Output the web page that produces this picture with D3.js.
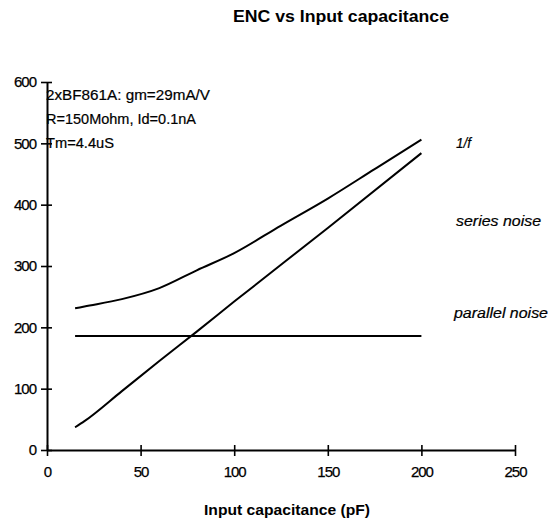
<!DOCTYPE html>
<html>
<head>
<meta charset="utf-8">
<script src="https://cdn.jsdelivr.net/npm/d3@7"></script>
<style>
  html, body { margin: 0; padding: 0; background: #fff; }
  svg { display: block; font-family: "Liberation Sans", Arial, sans-serif; }
</style>
</head>
<body>
<svg id="chart" width="552" height="519"></svg>
<script>
// ---- data ----
const title = "ENC vs Input capacitance";
const xAxisTitle = "Input capacitance (pF)";
const xTicks = [0, 50, 100, 150, 200, 250];
const yTicks = [0, 100, 200, 300, 400, 500, 600];
const annotation = ["2xBF861A: gm=29mA/V", "R=150Mohm, Id=0.1nA", "Tm=4.4uS"];
const seriesNames = ["1/f", "series noise", "parallel noise"];

const totalCap   = [15, 20, 40, 60, 80, 100, 125, 150, 175, 200];
const totalENC   = [231, 234, 246, 264, 293, 321, 366, 410, 458, 506];
const seriesCap  = [15, 20, 40, 60, 80, 100, 150, 200];
const seriesENC  = [37, 47, 96, 145, 193, 242, 362, 484];
const parallelCap = [15, 200];
const parallelENC = [186, 186];

// ---- layout ----
const svg = d3.select("#chart");
const x = d3.scaleLinear().domain([0, 250]).range([47, 515]);
const y = d3.scaleLinear().domain([0, 600]).range([450, 82]);

// title
svg.append("text")
  .attr("x", 341).attr("y", 22)
  .attr("text-anchor", "middle")
  .attr("font-size", 16).attr("font-weight", "bold")
  .attr("textLength", 216).attr("lengthAdjust", "spacingAndGlyphs")
  .text(title);

// axes
const yAxis = svg.append("g")
  .attr("transform", `translate(${x(0)},0)`)
  .call(d3.axisLeft(y).tickValues(yTicks).tickSize(6).tickPadding(5).tickSizeOuter(0));
const xAxis = svg.append("g")
  .attr("transform", `translate(0,${y(0)})`)
  .call(d3.axisBottom(x).tickValues(xTicks).tickSize(6).tickPadding(10).tickSizeOuter(0));

[yAxis, xAxis].forEach(g => {
  g.select(".domain").attr("stroke", "#000").attr("stroke-width", 2);
  g.selectAll(".tick line").attr("stroke", "#000").attr("stroke-width", 1.6);
  g.selectAll(".tick text").attr("fill", "#000")
    .attr("font-size", 15).attr("font-family", "Liberation Sans, Arial, sans-serif")
    .attr("letter-spacing", -1)
    .attr("stroke", "#000").attr("stroke-width", 0.25);
});
yAxis.selectAll(".tick line").attr("x1", 5);
xAxis.selectAll(".tick line").attr("y1", -5);

// x axis title
svg.append("text")
  .attr("x", 287).attr("y", 515)
  .attr("text-anchor", "middle")
  .attr("font-size", 15).attr("font-weight", "bold")
  .attr("textLength", 166).attr("lengthAdjust", "spacingAndGlyphs")
  .text(xAxisTitle);

// annotation
const annLen = [164, 150, 68];
annotation.forEach((t, i) => {
  svg.append("text")
    .attr("x", 46).attr("y", 100 + i * 24)
    .attr("font-size", 14)
    .attr("stroke", "#000").attr("stroke-width", 0.2)
    .attr("textLength", annLen[i]).attr("lengthAdjust", "spacingAndGlyphs")
    .text(t);
});

// lines
const line = d3.line().x(d => x(d[0])).y(d => y(d[1])).curve(d3.curveMonotoneX);
const datasets = [
  d3.zip(totalCap, totalENC),
  d3.zip(seriesCap, seriesENC),
  d3.zip(parallelCap, parallelENC)
];
svg.append("g").selectAll("path")
  .data(datasets)
  .join("path")
  .attr("d", line)
  .attr("fill", "none")
  .attr("stroke", "#000")
  .attr("stroke-width", 2);

// series labels
const labelPos = [[456, 148], [456, 226], [454, 318]];
const labelLen = [15, 85, 94];
seriesNames.forEach((n, i) => {
  svg.append("text")
    .attr("x", labelPos[i][0]).attr("y", labelPos[i][1])
    .attr("font-size", 14).attr("font-style", "italic")
    .attr("stroke", "#000").attr("stroke-width", 0.2)
    .attr("textLength", labelLen[i]).attr("lengthAdjust", "spacingAndGlyphs")
    .text(n);
});
</script>
</body>
</html>
